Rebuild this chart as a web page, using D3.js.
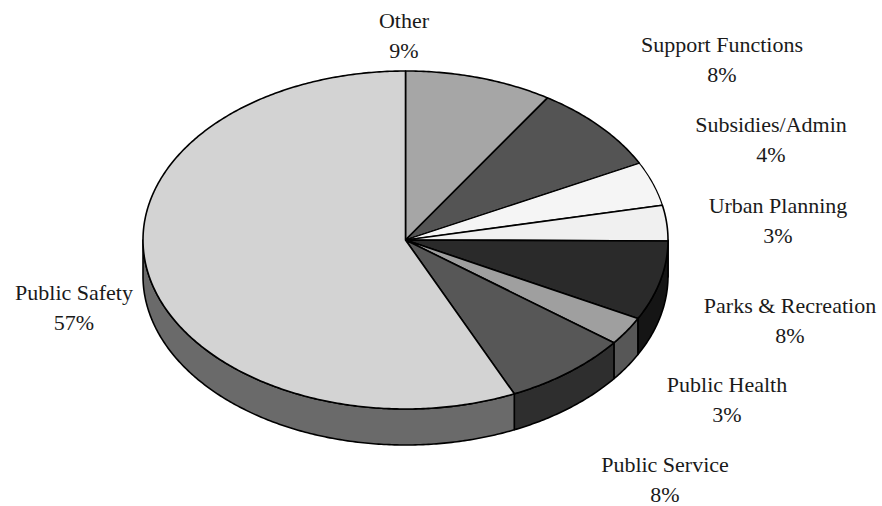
<!DOCTYPE html>
<html><head><meta charset="utf-8">
<script src="https://cdn.jsdelivr.net/npm/d3@7"></script>
</head><body>
<svg id="chart" width="882" height="506"></svg>
<script>
const categories = ["Other","Support Functions","Subsidies/Admin","Urban Planning","Parks & Recreation","Public Health","Public Service","Public Safety"];
const values = [9.1, 8.4, 4.2, 3.4, 7.6, 2.7, 7.8, 56.8];
const pctLabels = ["9%","8%","4%","3%","8%","3%","8%","57%"];
const topColors = ["#a6a6a6","#545454","#f5f5f5","#f0f0f0","#2a2a2a","#9f9f9f","#575757","#d3d3d3"];
const sideColors = ["#6a6a6a","#303030","#9a9a9a","#989898","#151515","#575757","#2e2e2e","#6a6a6a"];
const labelPos = [[404,28],[722,52],[771,132],[778,213],[790,313],[727,392],[665,472],[74,300]];

d3.select("body").style("margin","0");
const svg = d3.select("#chart").style("display","block");
const cx = 405.5, cy = 240, rx = 262.5, ry = 169, depth = 36;
const xs = d3.scaleLinear().domain([-1,1]).range([cx-rx, cx+rx]);
const ys = d3.scaleLinear().domain([-1,1]).range([cy-ry, cy+ry]);
const pt = (a, dz=0) => [xs(Math.sin(a)), ys(-Math.cos(a)) + dz];

const arcs = d3.pie().sort(null).startAngle(0).endAngle(2*Math.PI)(values);

function arcPoints(a0, a1, dz=0){
  const n = Math.max(2, Math.ceil((a1-a0)/0.01));
  return d3.range(n+1).map(i => pt(a0 + (a1-a0)*i/n, dz));
}

const gSide = svg.append("g");
arcs.forEach((d,i) => {
  const a0 = Math.max(d.startAngle, Math.PI/2), a1 = Math.min(d.endAngle, 3*Math.PI/2);
  if (a1 <= a0) return;
  const top = arcPoints(a0, a1, 0);
  const bot = arcPoints(a0, a1, depth).reverse();
  gSide.append("path")
    .attr("d", d3.line()(top.concat(bot)) + "Z")
    .attr("fill", sideColors[i]).attr("stroke", "#000").attr("stroke-width", 1.6)
    .attr("stroke-linejoin","round");
});

const gTop = svg.append("g");
arcs.forEach((d,i) => {
  const pts = [[cx,cy]].concat(arcPoints(d.startAngle, d.endAngle, 0));
  gTop.append("path")
    .attr("d", d3.line()(pts) + "Z")
    .attr("fill", topColors[i]).attr("stroke", "#000")
    .attr("stroke-width", (i===2) ? 1.2 : 1.6)
    .attr("stroke-linejoin","round");
});

const gLab = svg.append("g").attr("font-family", "Liberation Serif, serif");
categories.forEach((c,i) => {
  const [x,y] = labelPos[i];
  [c, pctLabels[i]].forEach((t,k) => {
    gLab.append("text").attr("x", x).attr("y", y + k*30).attr("text-anchor","middle")
      .style("font-family", '"Liberation Serif", serif', "important")
      .style("font-size","22px", "important")
      .style("fill","#1a1a1a")
      .text(t);
  });
});
</script>
</body></html>
